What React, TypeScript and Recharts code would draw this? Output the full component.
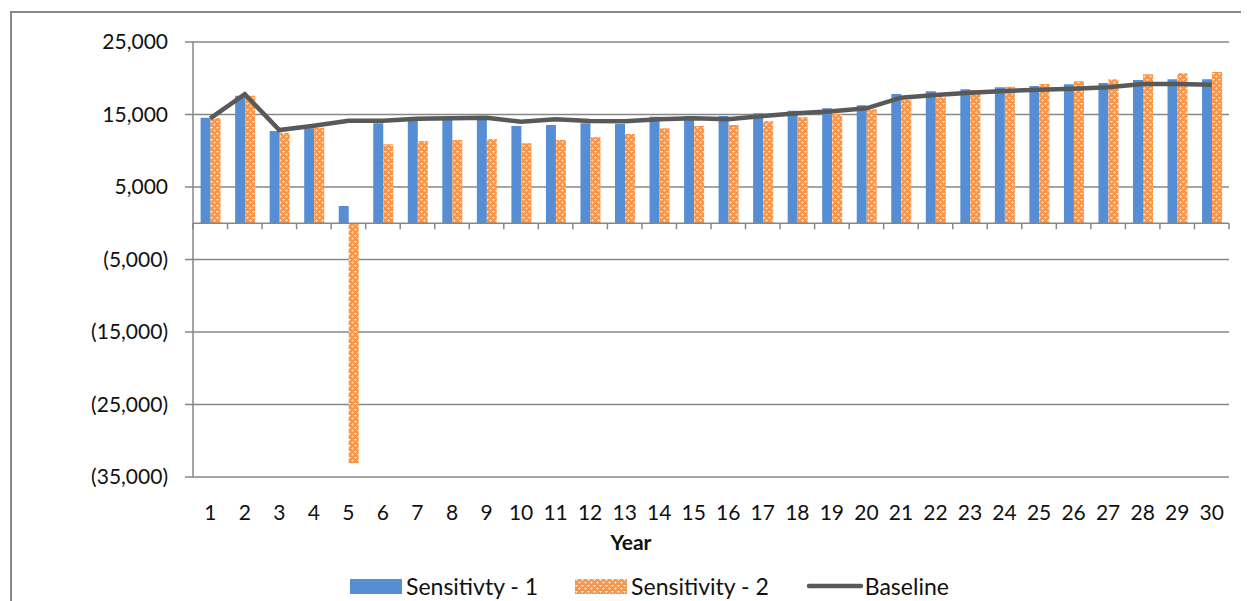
import React from 'react';
import {
  ComposedChart,
  Bar,
  Line,
  XAxis,
  YAxis,
  CartesianGrid,
  ReferenceLine,
  Legend,
} from 'recharts';

const years = [
  '1', '2', '3', '4', '5', '6', '7', '8', '9', '10',
  '11', '12', '13', '14', '15', '16', '17', '18', '19', '20',
  '21', '22', '23', '24', '25', '26', '27', '28', '29', '30',
];

const sensitivity1 = [
  14560, 17600, 12720, 13090, 2380, 13780, 14100, 14240, 14240, 13410,
  13550, 13780, 13700, 14700, 14790, 14790, 15160, 15530, 15850, 16260,
  17830, 18200, 18470, 18750, 18930, 19160, 19340, 19760, 19850, 19850,
];

const sensitivity2 = [
  14500, 17600, 12490, 13180, -33110, 10890, 11340, 11480, 11620, 11020,
  11480, 11860, 12310, 13090, 13410, 13550, 14100, 14610, 15070, 15710,
  17000, 17370, 18380, 18840, 19210, 19570, 19850, 20540, 20680, 20860,
];

const baseline = [
  14470, 17790, 12860, 13460, 14150, 14150, 14430, 14470, 14560, 14010,
  14330, 14100, 14060, 14330, 14470, 14330, 14790, 15160, 15440, 15850,
  17320, 17690, 18010, 18240, 18420, 18560, 18750, 19210, 19210, 19120,
];

const yTicks = [25000, 15000, 5000, -5000, -15000, -25000, -35000];

const data = years.map((y, i) => ({
  year: y,
  s1: sensitivity1[i],
  s2: sensitivity2[i],
  base: baseline[i],
}));

const FONT = 'Lato, "Noto Sans", sans-serif';
const GRAY = '#878787';
const BLUE = '#558ED5';
const LINE = '#595959';
const W = 1240;
const H = 600;

const fmt = (v: number) => {
  const s = Math.abs(v).toLocaleString('en-US');
  return v < 0 ? `(${s})` : s;
};

const ZeroAxis = (props: any) => {
  const { x1, x2, y1 } = props;
  if (x1 == null || y1 == null) return null;
  const n = years.length;
  const step = (x2 - x1) / n;
  const ticks = [];
  for (let i = 0; i <= n; i++) {
    const x = x1 + i * step;
    ticks.push(<line key={i} x1={x} x2={x} y1={y1} y2={y1 + 6} stroke={GRAY} strokeWidth={1.5} />);
  }
  return (
    <g>
      <line x1={x1} x2={x2} y1={y1} y2={y1} stroke={GRAY} strokeWidth={1.5} />
      {ticks}
    </g>
  );
};

const Swatch = ({ kind }: { kind: string }) => {
  if (kind === 'line') {
    return (
      <svg width={58} height={16} style={{ display: 'block' }}>
        <line x1={3} x2={55} y1={8} y2={8} stroke={LINE} strokeWidth={4.5} strokeLinecap="round" />
      </svg>
    );
  }
  return (
    <svg width={52} height={15} style={{ display: 'block' }}>
      <rect x={0} y={0} width={52} height={15} fill={kind === 'blue' ? BLUE : 'url(#orangePat)'} />
    </svg>
  );
};

const LegendContent = () => {
  const items = [
    { kind: 'blue', label: 'Sensitivty - 1' },
    { kind: 'orange', label: 'Sensitivity - 2' },
    { kind: 'line', label: 'Baseline' },
  ];
  return (
    <div
      style={{
        display: 'flex',
        alignItems: 'center',
        paddingLeft: 338,
        fontFamily: FONT,
        fontSize: 23,
        color: '#111',
        height: 26,
      }}
    >
      {items.map((it, i) => (
        <div key={i} style={{ display: 'flex', alignItems: 'center', marginRight: 37 }}>
          <Swatch kind={it.kind} />
          <span style={{ marginLeft: it.kind === 'line' ? 1 : 4, whiteSpace: 'nowrap' }}>{it.label}</span>
        </div>
      ))}
    </div>
  );
};

export default function App() {
  return (
    <div
      style={{
        marginLeft: 2,
        marginTop: 3,
        width: W,
        height: H,
        border: `2px solid ${GRAY}`,
        position: 'relative',
        background: '#fff',
      }}
    >
      <ComposedChart
        width={W}
        height={H}
        data={data}
        margin={{ top: 29, right: 23, left: 0, bottom: 76 }}
        barCategoryGap="22%"
        barGap={0}
      >
        <defs>
          <pattern id="orangePat" width="6" height="6" patternUnits="userSpaceOnUse">
            <rect x="0" y="0" width="6" height="6" fill="#F7964A" />
            <rect x="0" y="0" width="3" height="1" fill="#FDDCC2" />
            <rect x="1" y="-1" width="1" height="3" fill="#FDDCC2" />
            <rect x="3" y="3" width="3" height="1" fill="#FCCBA3" />
            <rect x="4" y="2" width="1" height="3" fill="#FCCBA3" />
          </pattern>
        </defs>
        <CartesianGrid vertical={false} stroke={GRAY} strokeWidth={1.5} />
        <XAxis
          dataKey="year"
          interval={0}
          axisLine={false}
          tickLine={false}
          tickSize={0}
          tickMargin={28}
          height={60}
          tick={{ fontSize: 21, fontFamily: FONT, fill: '#111' }}
          label={{
            content: () => (
              <text
                x={619}
                y={528}
                textAnchor="middle"
                dominantBaseline="central"
                fontFamily={FONT}
                fontSize={21}
                fontWeight="bold"
                fill="#111"
              >
                Year
              </text>
            ),
          }}
        />
        <YAxis
          width={181}
          domain={[-35000, 25000]}
          ticks={yTicks}
          interval={0}
          tickFormatter={fmt}
          axisLine={{ stroke: GRAY, strokeWidth: 1.5 }}
          tickLine={{ stroke: GRAY, strokeWidth: 1.5 }}
          tickSize={8}
          tickMargin={17}
          tick={{ fontSize: 21, fontFamily: FONT, fill: '#111' }}
        />
        <Bar dataKey="s1" name="Sensitivty - 1" fill={BLUE} isAnimationActive={false} />
        <Bar dataKey="s2" name="Sensitivity - 2" fill="url(#orangePat)" isAnimationActive={false} />
        <Line
          dataKey="base"
          name="Baseline"
          type="linear"
          stroke={LINE}
          strokeWidth={4.5}
          dot={false}
          activeDot={false}
          isAnimationActive={false}
        />
        <ReferenceLine y={0} shape={ZeroAxis} />
        <Legend
          layout="horizontal"
          verticalAlign="middle"
          align="center"
          content={LegendContent}
          wrapperStyle={{ position: 'absolute', top: 560, left: 0, width: W, height: 26 }}
        />
      </ComposedChart>
    </div>
  );
}
